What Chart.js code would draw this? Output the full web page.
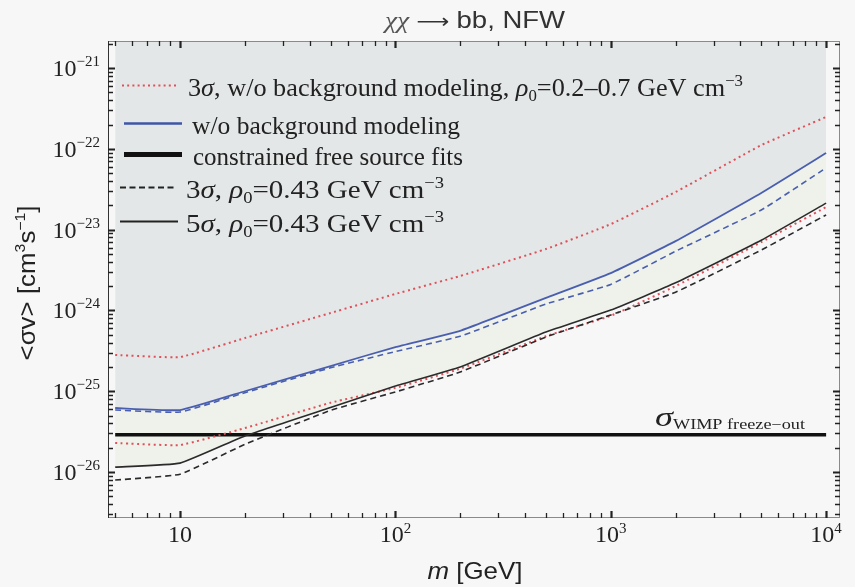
<!DOCTYPE html>
<html>
<head>
<meta charset="utf-8">
<script src="https://cdn.jsdelivr.net/npm/chart.js@4.4.1/dist/chart.umd.min.js"></script>
<style>
html,body{margin:0;padding:0;background:#f7f7f7;}
#c{display:block;}
</style>
</head>
<body>
<canvas id="c" width="855" height="587"></canvas>
<script>
// ---- data ----
const masses   = [5, 10, 20, 50, 100, 200, 500, 1000, 2000, 5000, 10000];
const redUpper = [2.81e-25, 2.65e-25, 4.55e-25, 9.3e-25, 1.6e-24, 2.67e-24, 5.75e-24, 1.17e-23, 2.92e-23, 1.11e-22, 2.48e-22];
const redLower = [2.29e-26, 2.16e-26, 3.5e-26, 7.2e-26, 1.1e-25, 1.9e-25, 4.8e-25, 8.6e-25, 2.0e-24, 7.0e-24, 1.9e-23];
const blue5    = [6.2e-26, 5.85e-26, 1.0e-25, 2.05e-25, 3.52e-25, 5.6e-25, 1.43e-24, 2.9e-24, 7.2e-24, 2.84e-23, 8.87e-23];
const blue3    = [5.85e-26, 5.53e-26, 9.6e-26, 1.95e-25, 3.1e-25, 4.8e-25, 1.2e-24, 2.1e-24, 5.4e-24, 1.75e-23, 5.8e-23];
const black5   = [1.15e-26, 1.29e-26, 2.8e-26, 6.3e-26, 1.16e-25, 2.0e-25, 5.4e-25, 1.01e-24, 2.2e-24, 7.4e-24, 2.13e-23];
const black3   = [7.96e-27, 9.4e-27, 2.2e-26, 5.8e-26, 9.8e-26, 1.73e-25, 4.69e-25, 8.8e-25, 1.68e-24, 5.6e-24, 1.52e-23];
const freezeMass = [5, 10000];
const freezeVal  = [2.9e-26, 2.9e-26];
const xTickValues = [10, 100, 1000, 10000];
const xTickExps   = ['', '2', '3', '4'];
const yTickExps   = [-21, -22, -23, -24, -25, -26];

const SERIF = '"Liberation Serif","Times New Roman",serif';
const SANS  = '"Liberation Sans",Arial,"DejaVu Sans",sans-serif';

function pts(xs, ys){ return xs.map((x,i)=>({x:x, y:ys[i]})); }

function richWidth(ctx, segs){
  let w=0; segs.forEach(s=>{ctx.font=s.f; w+=ctx.measureText(s.t).width;}); return w;
}
function drawRich(ctx, x, y, segs, align, targetW){
  ctx.save();
  let w = richWidth(ctx, segs);
  let sx = targetW ? targetW/w : 1;
  let start = x;
  if(align==='center') start = x - w*sx/2;
  else if(align==='right') start = x - w*sx;
  ctx.translate(start, y);
  ctx.scale(sx, 1);
  let cx = 0;
  segs.forEach(s=>{
    ctx.font = s.f;
    ctx.fillStyle = s.c || '#222';
    ctx.textBaseline = 'alphabetic';
    ctx.textAlign = 'left';
    ctx.fillText(s.t, cx, s.dy||0);
    cx += ctx.measureText(s.t).width;
  });
  ctx.restore();
}

const decor = {
  id:'decor',
  beforeDraw(chart){
    const ctx = chart.ctx;
    ctx.save();
    ctx.fillStyle = '#f7f7f7';
    ctx.fillRect(0,0,chart.width,chart.height);
    ctx.restore();
  },
  afterDraw(chart){
    const ctx = chart.ctx, a = chart.chartArea;
    const xs = chart.scales.x, ys = chart.scales.y;
    ctx.save();
    // frame
    ctx.lineWidth = 1;
    ctx.strokeStyle = '#8a8a8a';
    ctx.strokeRect(a.left+0.5, a.top+0.5, a.right-a.left-1, a.bottom-a.top-1);
    ctx.strokeStyle = '#333';
    ctx.beginPath(); ctx.moveTo(a.left+0.5, a.top); ctx.lineTo(a.left+0.5, a.bottom); ctx.stroke();
    // ticks
    ctx.strokeStyle = '#222';
    for(let e=0; e<=4; e++){
      for(let k=1; k<=9; k++){
        const v = k*Math.pow(10,e);
        if(v < xs.min || v > xs.max) continue;
        const px = Math.round(xs.getPixelForValue(v))+0.5;
        const major = (k===1);
        ctx.lineWidth = major?2.2:1.3;
        const L = major?7:5;
        ctx.beginPath();
        ctx.moveTo(px, a.bottom); ctx.lineTo(px, a.bottom-L);
        ctx.moveTo(px, a.top); ctx.lineTo(px, a.top+L);
        ctx.stroke();
      }
    }
    for(let e=-27; e<=-21; e++){
      for(let k=1; k<=9; k++){
        const v = k*Math.pow(10,e);
        if(v < ys.min || v > ys.max) continue;
        const py = Math.round(ys.getPixelForValue(v))+0.5;
        const major = (k===1);
        ctx.lineWidth = major?2.2:1.3;
        const L = major?7:5;
        ctx.beginPath();
        ctx.moveTo(a.left, py); ctx.lineTo(a.left+L, py);
        ctx.moveTo(a.right, py); ctx.lineTo(a.right-L, py);
        ctx.stroke();
      }
    }
    // y tick labels
    yTickExps.forEach(ex=>{
      const py = ys.getPixelForValue(Math.pow(10,ex));
      drawRich(ctx, 100, py+8, [
        {t:'10', f:'24px '+SERIF},
        {t:'\u2212'+String(-ex), f:'15px '+SERIF, dy:-10}
      ], 'right');
    });
    // x tick labels
    xTickValues.forEach((v,i)=>{
      const px = xs.getPixelForValue(v);
      const segs = [{t:'10', f:'24px '+SERIF}];
      if(xTickExps[i]) segs.push({t:xTickExps[i], f:'15px '+SERIF, dy:-9});
      drawRich(ctx, px, 542, segs, 'center');
    });
    // axis titles
    drawRich(ctx, 475, 579, [
      {t:'m', f:'italic 24px '+SANS},
      {t:' [GeV]', f:'24px '+SANS}
    ], 'center', 95);
    ctx.save();
    ctx.translate(35, 283);
    ctx.rotate(-Math.PI/2);
    drawRich(ctx, 0, 0, [
      {t:'<\u03c3v> [cm', f:'23px '+SANS},
      {t:'3', f:'14px '+SANS, dy:-10},
      {t:'s', f:'23px '+SANS},
      {t:'\u22121', f:'14px '+SANS, dy:-10},
      {t:']', f:'23px '+SANS}
    ], 'center', 155);
    ctx.restore();
    // title
    drawRich(ctx, 475, 28, [
      {t:'\u03c7\u03c7', f:'italic 24px '+SERIF, c:'#555'},
      {t:' \u27f6 ', f:'20px "DejaVu Sans",'+SANS, c:'#333'},
      {t:'bb, NFW', f:'24px '+SANS, c:'#333'}
    ], 'center', 180);
    // legend
    const rows = [
      {y:85, x1:122, x2:176, color:'#e0505a', w:2.2, dash:[2,3.2], tx:188,
       segs:[{t:'3', f:'25px '+SERIF},{t:'\u03c3', f:'italic 25px '+SERIF},{t:', w/o background modeling, ', f:'25px '+SERIF},
             {t:'\u03c1', f:'italic 25px '+SERIF},{t:'0', f:'16px '+SERIF, dy:5},{t:'=0.2\u20130.7 GeV cm', f:'25px '+SERIF},
             {t:'\u22123', f:'16px '+SERIF, dy:-10}], tw:555},
      {y:123, x1:124, x2:182, color:'#3f55a8', w:2.6, dash:[], tx:192,
       segs:[{t:'w/o background modeling', f:'25px '+SERIF}], tw:268},
      {y:154, x1:124, x2:182, color:'#111', w:5, dash:[], tx:193,
       segs:[{t:'constrained free source fits', f:'25px '+SERIF}], tw:270},
      {y:187, x1:120, x2:174, color:'#222', w:1.8, dash:[6,3.5], tx:186,
       segs:[{t:'3', f:'25px '+SERIF},{t:'\u03c3', f:'italic 25px '+SERIF},{t:', ', f:'25px '+SERIF},
             {t:'\u03c1', f:'italic 25px '+SERIF},{t:'0', f:'16px '+SERIF, dy:5},{t:'=0.43 GeV cm', f:'25px '+SERIF},
             {t:'\u22123', f:'16px '+SERIF, dy:-10}], tw:258},
      {y:221, x1:120, x2:178, color:'#222', w:2, dash:[], tx:186,
       segs:[{t:'5', f:'25px '+SERIF},{t:'\u03c3', f:'italic 25px '+SERIF},{t:', ', f:'25px '+SERIF},
             {t:'\u03c1', f:'italic 25px '+SERIF},{t:'0', f:'16px '+SERIF, dy:5},{t:'=0.43 GeV cm', f:'25px '+SERIF},
             {t:'\u22123', f:'16px '+SERIF, dy:-10}], tw:258}
    ];
    rows.forEach(r=>{
      ctx.save();
      ctx.strokeStyle = r.color; ctx.lineWidth = r.w; ctx.setLineDash(r.dash);
      ctx.beginPath(); ctx.moveTo(r.x1, r.y+0.5); ctx.lineTo(r.x2, r.y+0.5); ctx.stroke();
      ctx.restore();
      drawRich(ctx, r.tx, r.y+11, r.segs, 'left', r.tw);
    });
    // freeze-out label
    drawRich(ctx, 655, 426, [
      {t:'\u03c3', f:'italic 28px '+SERIF},
      {t:'WIMP freeze\u2212out', f:'14px '+SERIF, dy:3}
    ], 'left', 150);
    ctx.restore();
  }
};

const common = {pointRadius:0, pointHoverRadius:0, tension:0.12, fill:false, borderCapStyle:'butt'};

new Chart(document.getElementById('c'), {
  type:'line',
  data:{
    datasets:[
      Object.assign({}, common, {label:'5σ w/o background modeling', data:pts(masses, blue5), borderColor:'#4a5eb0', borderWidth:1.8,
        fill:'end', backgroundColor:'#e4e7e7'}),
      Object.assign({}, common, {label:'5σ constrained', data:pts(masses, black5), borderColor:'#2b2b2b', borderWidth:1.6,
        fill:{target:0}, backgroundColor:'#eef2ea'}),
      Object.assign({}, common, {label:'3σ w/o background modeling', data:pts(masses, blue3), borderColor:'#4a5eb0', borderWidth:1.6, borderDash:[6,4]}),
      Object.assign({}, common, {label:'3σ constrained', data:pts(masses, black3), borderColor:'#2b2b2b', borderWidth:1.6, borderDash:[6,4]}),
      Object.assign({}, common, {label:'3σ ρ0 upper', data:pts(masses, redUpper), borderColor:'#e0505a', borderWidth:2, borderDash:[2,3.5]}),
      Object.assign({}, common, {label:'3σ ρ0 lower', data:pts(masses, redLower), borderColor:'#e0505a', borderWidth:2, borderDash:[2,3.5]}),
      Object.assign({}, common, {label:'freeze-out', data:pts(freezeMass, freezeVal), borderColor:'#111', borderWidth:3.6, tension:0})
    ]
  },
  options:{
    responsive:false,
    devicePixelRatio:1,
    animation:false,
    layout:{padding:{left:108, top:41, right:15, bottom:69}},
    plugins:{legend:{display:false}, tooltip:{enabled:false}, title:{display:false},
      filler:{drawTime:'beforeDatasetsDraw'}},
    scales:{
      x:{type:'logarithmic', min:4.63, max:11600, display:false},
      y:{type:'logarithmic', min:2.7e-27, max:2.16e-21, display:false}
    }
  },
  plugins:[decor]
});
</script>
</body>
</html>
